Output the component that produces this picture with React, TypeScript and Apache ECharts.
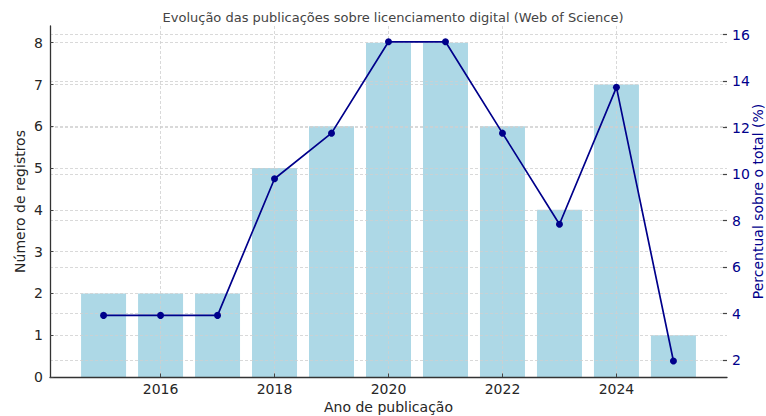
import React, { useEffect, useRef } from "react";
import * as echarts from "echarts";

const years = [2015, 2016, 2017, 2018, 2019, 2020, 2021, 2022, 2023, 2024, 2025];
const counts = [2, 2, 2, 5, 6, 8, 8, 6, 4, 7, 1];
const percents = [3.92, 3.92, 3.92, 9.8, 11.76, 15.69, 15.69, 11.76, 7.84, 13.73, 1.96];

const titleText = "Evolução das publicações sobre licenciamento digital (Web of Science)";
const xName = "Ano de publicação";
const yLeftName = "Número de registros";
const yRightName = "Percentual sobre o total (%)";

const FONT = "DejaVu Sans";
const GRID_LINE = { show: true, showMinLine: false, showMaxLine: false, lineStyle: { color: "#cfcfcf", type: [3, 2], width: 0.8 } };

export default function App() {
  const ref = useRef<HTMLDivElement>(null);
  useEffect(() => {
    if (!ref.current) return;
    const chart = echarts.init(ref.current, undefined, { renderer: "svg" });
    chart.setOption({
      animation: false,
      backgroundColor: "#ffffff",
      textStyle: { fontFamily: FONT },
      title: {
        text: titleText,
        left: 388,
        textAlign: "center",
        top: 6,
        textStyle: { fontFamily: FONT, fontSize: 13, fontWeight: "normal", color: "#444" },
      },
      grid: { left: 50, right: 39, top: 26, bottom: 39, outerBoundsMode: "none", containLabel: false },
      xAxis: {
        type: "value",
        min: 2014.06,
        max: 2025.94,
        splitNumber: 6,
        z: 3,
        name: xName,
        nameLocation: "middle",
        nameGap: 23,
        nameMoveOverlap: false,
        nameTextStyle: { fontFamily: FONT, fontSize: 14, color: "#262626" },
        axisLine: { show: true, lineStyle: { color: "#333", width: 1.3 } },
        axisTick: { show: true, inside: true, length: 3.5, lineStyle: { color: "#444" } },
        axisLabel: {
          showMinLabel: false,
          showMaxLabel: false,
          margin: 5,
          fontFamily: FONT,
          fontSize: 14,
          color: "#262626",
          formatter: (v: number) => (Number.isInteger(v) ? String(v) : ""),
        },
        splitLine: GRID_LINE,
      },
      yAxis: [
        {
          type: "value",
          min: 0,
          max: 8.4,
          interval: 1,
          z: 3,
          name: yLeftName,
          nameLocation: "middle",
          nameGap: 23,
          nameMoveOverlap: false,
          nameRotate: 90,
          nameTextStyle: { fontFamily: FONT, fontSize: 14, color: "#262626" },
          axisLine: { show: true, lineStyle: { color: "#333", width: 1.3 } },
          axisTick: { show: true, inside: true, length: 3.5, lineStyle: { color: "#444" } },
          axisLabel: {
            showMaxLabel: false,
            margin: 7,
            fontFamily: FONT,
            fontSize: 14,
            color: "#262626",
            formatter: (v: number) => (Number.isInteger(v) ? String(v) : ""),
          },
          splitLine: GRID_LINE,
        },
        {
          type: "value",
          min: 1.27,
          max: 16.37,
          splitNumber: 8,
          z: 3,
          name: yRightName,
          nameLocation: "middle",
          nameGap: 24,
          nameMoveOverlap: false,
          nameRotate: 90,
          nameTextStyle: { fontFamily: FONT, fontSize: 14, color: "#00008B" },
          axisLine: { show: false },
          axisTick: { show: true, inside: true, length: 4, lineStyle: { color: "#444", width: 1.2 } },
          axisLabel: {
            showMinLabel: false,
            showMaxLabel: false,
            margin: 5,
            fontFamily: FONT,
            fontSize: 14,
            color: "#00008B",
            formatter: (v: number) => (Number.isInteger(v) ? String(v) : ""),
          },
          splitLine: GRID_LINE,
        },
      ],
      series: [
        {
          type: "bar",
          yAxisIndex: 0,
          barWidth: 45,
          z: 2,
          itemStyle: { color: "#ADD8E6" },
          data: years.map((y, i) => [y, counts[i]]),
        },
        {
          type: "line",
          yAxisIndex: 1,
          z: 5,
          symbol: "circle",
          symbolSize: 7,
          lineStyle: { color: "#00008B", width: 1.7 },
          itemStyle: { color: "#00008B" },
          data: years.map((y, i) => [y, percents[i]]),
        },
      ],
    });
    return () => chart.dispose();
  }, []);
  return (
    <div
      ref={ref}
      style={{ position: "fixed", left: 0, top: 0, width: 766, height: 416 }}
    />
  );
}
